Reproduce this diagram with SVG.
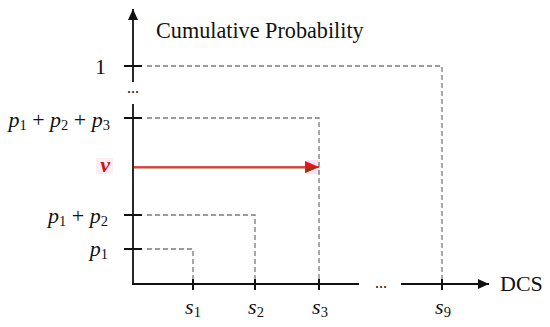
<svg xmlns="http://www.w3.org/2000/svg" width="550" height="327" viewBox="0 0 550 327">
<style>
.lab{font-size:22px}
.i{font-style:italic}
.sub{font-size:14.5px;font-style:normal}
.axis{stroke:#111;stroke-width:1.8;fill:none}
.tick{stroke:#111;stroke-width:2}
.dash{stroke:#7a7a7a;stroke-width:1.3;stroke-dasharray:5 3;fill:none}
</style>
<defs>
<marker id="ah" markerWidth="11" markerHeight="10" refX="11" refY="5" orient="auto" markerUnits="userSpaceOnUse">
<path d="M0,0 L11,5 L0,10 Z" fill="#111"/>
</marker>
<marker id="ar" markerWidth="14" markerHeight="12" refX="14" refY="6" orient="auto" markerUnits="userSpaceOnUse">
<path d="M0,0 L14,6 L0,12 Z" fill="#e8141b"/>
<path d="M2,7 L14,6 L0,12 Z" fill="#8a3a14"/>
</marker>
</defs>
<g id="highlights">
<rect x="96" y="158" width="17" height="16" fill="#fbeef5"/>
<rect x="307" y="160" width="13" height="14" fill="#fbe3f0"/>
</g>
<g id="connectors">
<path class="dash" d="M147,66 H442 V284"/>
<path class="dash" d="M147,118 H319 V284"/>
<path class="dash" d="M147,215 H255 V284"/>
<path class="dash" d="M147,249 H193 V284"/>
<line x1="134" y1="168" x2="306" y2="168" stroke="#9a5a2a" stroke-width="1"/>
<line x1="134" y1="167" x2="319" y2="167" stroke="#e8141b" stroke-width="1.4" marker-end="url(#ar)"/>
</g>
<g id="y-axis" font-family="Liberation Serif, Times New Roman, serif" fill="#111">
<line class="axis" x1="133" y1="82" x2="133" y2="9" marker-end="url(#ah)"/>
<line class="axis" x1="133" y1="104" x2="133" y2="285"/>
<text x="133" y="93" text-anchor="middle" font-size="16">...</text>
<text x="156" y="38" font-size="22.2">Cumulative Probability</text>
</g>
<g id="x-axis" font-family="Liberation Serif, Times New Roman, serif" fill="#111">
<line class="axis" x1="132" y1="284" x2="359" y2="284"/>
<line class="axis" x1="401" y1="284" x2="489" y2="284" marker-end="url(#ah)"/>
<text x="381" y="288" text-anchor="middle" font-size="16">...</text>
<text x="500" y="291" class="lab">DCS</text>
</g>
<g id="tick-1" font-family="Liberation Serif, Times New Roman, serif" fill="#111">
<line class="tick" x1="124" y1="66" x2="142" y2="66"/>
<text x="106" y="74" class="lab" text-anchor="end">1</text>
</g>
<g id="tick-p123" font-family="Liberation Serif, Times New Roman, serif" fill="#111">
<line class="tick" x1="124" y1="118" x2="142" y2="118"/>
<text x="110" y="127" class="lab" text-anchor="end"><tspan class="i">p</tspan><tspan class="sub" dy="3">1</tspan><tspan dy="-3"> + </tspan><tspan class="i">p</tspan><tspan class="sub" dy="3">2</tspan><tspan dy="-3"> + </tspan><tspan class="i">p</tspan><tspan class="sub" dy="3">3</tspan></text>
</g>
<g id="tick-v" font-family="Liberation Serif, Times New Roman, serif">
<text x="110" y="172" class="lab i" text-anchor="end" fill="#c8141b" font-weight="bold">v</text>
</g>
<g id="tick-p12" font-family="Liberation Serif, Times New Roman, serif" fill="#111">
<line class="tick" x1="124" y1="215" x2="142" y2="215"/>
<text x="108" y="223" class="lab" text-anchor="end"><tspan class="i">p</tspan><tspan class="sub" dy="3">1</tspan><tspan dy="-3"> + </tspan><tspan class="i">p</tspan><tspan class="sub" dy="3">2</tspan></text>
</g>
<g id="tick-p1" font-family="Liberation Serif, Times New Roman, serif" fill="#111">
<line class="tick" x1="124" y1="249" x2="142" y2="249"/>
<text x="108" y="256" class="lab" text-anchor="end"><tspan class="i">p</tspan><tspan class="sub" dy="3">1</tspan></text>
</g>
<g id="tick-s1" font-family="Liberation Serif, Times New Roman, serif" fill="#111">
<line class="tick" x1="193" y1="279" x2="193" y2="290"/>
<text x="193" y="314" class="lab" text-anchor="middle"><tspan class="i">s</tspan><tspan class="sub" dy="3">1</tspan></text>
</g>
<g id="tick-s2" font-family="Liberation Serif, Times New Roman, serif" fill="#111">
<line class="tick" x1="255" y1="279" x2="255" y2="290"/>
<text x="256" y="314" class="lab" text-anchor="middle"><tspan class="i">s</tspan><tspan class="sub" dy="3">2</tspan></text>
</g>
<g id="tick-s3" font-family="Liberation Serif, Times New Roman, serif" fill="#111">
<line class="tick" x1="319" y1="279" x2="319" y2="290"/>
<text x="320" y="314" class="lab" text-anchor="middle"><tspan class="i">s</tspan><tspan class="sub" dy="3">3</tspan></text>
</g>
<g id="tick-s9" font-family="Liberation Serif, Times New Roman, serif" fill="#111">
<line class="tick" x1="442" y1="279" x2="442" y2="290"/>
<text x="443" y="314" class="lab" text-anchor="middle"><tspan class="i">s</tspan><tspan class="sub" dy="3">9</tspan></text>
</g>
</svg>
